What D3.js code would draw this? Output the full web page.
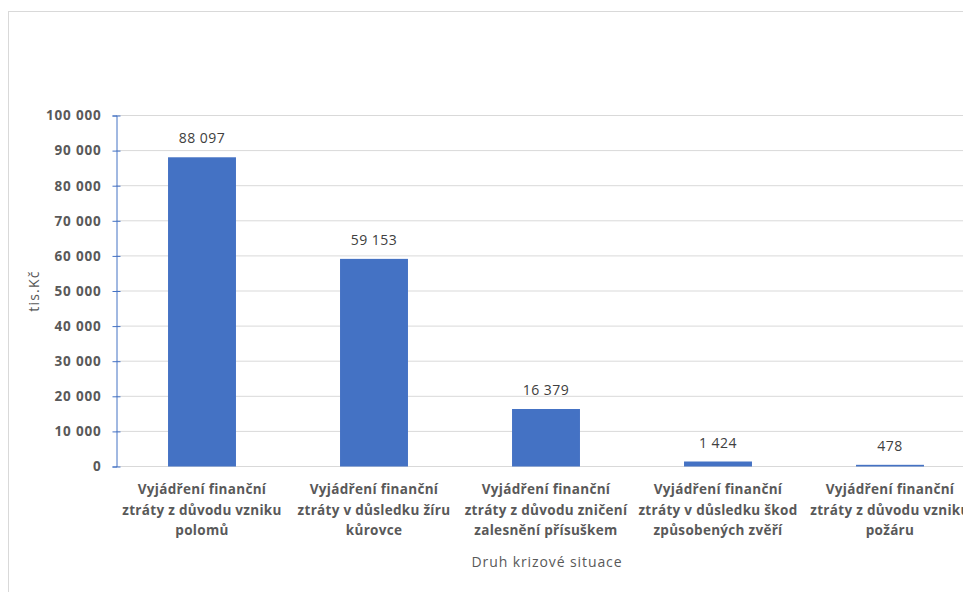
<!DOCTYPE html>
<html><head><meta charset="utf-8">
<script src="https://cdn.jsdelivr.net/npm/d3@7"></script>
<style>body{margin:0;background:#fff}svg{display:block}</style>
</head><body>
<svg id="c" width="963" height="592"></svg>
<script>
const categories = [
  ["Vyjádření finanční","ztráty z důvodu vzniku","polomů"],
  ["Vyjádření finanční","ztráty v důsledku žíru","kůrovce"],
  ["Vyjádření finanční","ztráty z důvodu zničení","zalesnění přísuškem"],
  ["Vyjádření finanční","ztráty v důsledku škod","způsobených zvěří"],
  ["Vyjádření finanční","ztráty z důvodu vzniku","požáru"]
];
const values = [88097, 59153, 16379, 1424, 478];
const yTicks = [0,10000,20000,30000,40000,50000,60000,70000,80000,90000,100000];
const yTitle = "tis.Kč";
const xTitle = "Druh krizové situace";

const svg = d3.select("#c");
const font = "'Open Sans', sans-serif";
const fmt = v => d3.format(",")(v).replace(/,/g, " ");

// chart border
svg.append("rect").attr("x",8.5).attr("y",11.5).attr("width",1000).attr("height",700)
  .attr("fill","#fff").attr("stroke","#d9d9d9");

const x = d3.scaleBand().domain(d3.range(categories.length)).range([116, 976]).paddingInner(0.605).paddingOuter(0.3025);
const y = d3.scaleLinear().domain([0,100000]).range([466.5, 115.5]);

// gridlines
svg.append("g").selectAll("line").data(yTicks).join("line")
  .attr("x1",116).attr("x2",963).attr("y1",d=>y(d)).attr("y2",d=>y(d))
  .attr("stroke","#d9d9d9").attr("stroke-width",1);

// bars
svg.append("g").selectAll("rect").data(values).join("rect")
  .attr("x",(d,i)=>x(i)).attr("width",x.bandwidth())
  .attr("y",d=>y(d)).attr("height",d=>y(0)-y(d)).attr("fill","#4472C4");

// data labels
svg.append("g").selectAll("text").data(values).join("text")
  .attr("x",(d,i)=>x(i)+x.bandwidth()/2).attr("y",d=>y(d)-14)
  .attr("text-anchor","middle").attr("font-family",font).attr("font-size",14)
  .attr("letter-spacing",0.5)
  .attr("fill","#404040").text(d=>fmt(d));

// y axis
const yAxis = d3.axisLeft(y).tickValues(yTicks).tickFormat(fmt).tickSize(4).tickPadding(8);
const ga = svg.append("g").attr("transform","translate(116.5,0)").call(yAxis);
ga.select(".domain").attr("stroke","#4472C4");
ga.selectAll(".tick line").attr("stroke","#4472C4").attr("x2",4).attr("x1",-4);
ga.selectAll(".tick text").attr("font-family",font).attr("font-size",13.5).attr("letter-spacing",0.8)
  .attr("font-weight","bold").attr("fill","#595959").attr("x",-15);

// x labels
const xl = svg.append("g").selectAll("text").data(categories).join("text")
  .attr("text-anchor","middle").attr("font-family",font).attr("font-size",13.5).attr("letter-spacing",0.3)
  .attr("font-weight","bold").attr("fill","#595959");
xl.each(function(lines,i){
  const t = d3.select(this);
  lines.forEach((l,k)=>{
    t.append("tspan").attr("x",x(i)+x.bandwidth()/2).attr("y",494+k*20.5).text(l);
  });
});

// axis titles
svg.append("text").attr("transform","translate(39,291) rotate(-90)").attr("text-anchor","middle")
  .attr("font-family",font).attr("font-size",14).attr("fill","#595959").attr("letter-spacing",1.2).text(yTitle);
svg.append("text").attr("x",547).attr("y",567).attr("text-anchor","middle")
  .attr("font-family",font).attr("font-size",14).attr("fill","#595959").attr("letter-spacing",0.9).text(xTitle);
</script>
</body></html>
